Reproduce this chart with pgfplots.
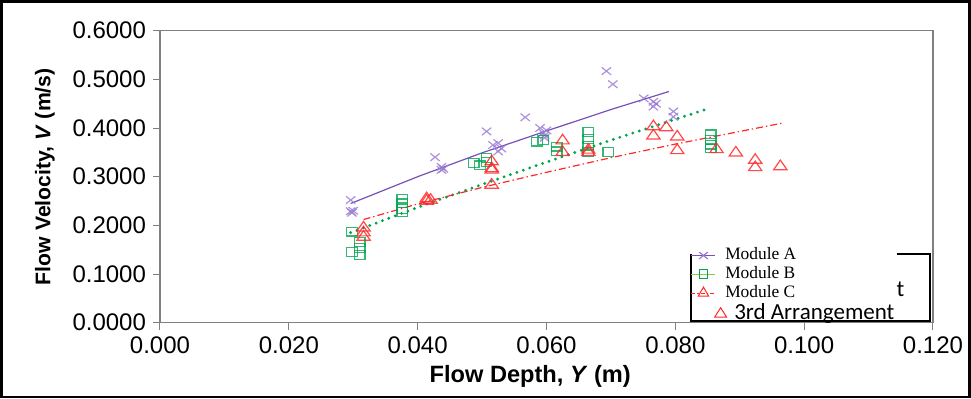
\documentclass[border=0pt]{standalone}
\usepackage{pgfplots}
\pgfplotsset{compat=1.18}
\usepackage{fontspec}
\setmainfont{Liberation Sans}
\newfontfamily\timesf{Liberation Serif}
\newfontfamily\calib{Carlito}
\definecolor{pA}{RGB}{150,120,210}
\definecolor{pAl}{RGB}{120,80,185}
\definecolor{gB}{RGB}{0,165,80}
\definecolor{gBl}{RGB}{130,210,60}
\definecolor{rC}{RGB}{255,40,40}
\begin{document}
\begin{tikzpicture}
\useasboundingbox (-80pt,-38.15pt) rectangle (405.5pt,161.35pt);
\draw[line width=1.2pt] (-79.2pt,-37.3pt) rectangle (404.7pt,160.5pt);
\begin{axis}[
  at={(0pt,0pt)}, anchor=south west,
  scale only axis, width=386.5pt, height=146pt,
  xmin=0, xmax=0.12, ymin=0, ymax=0.6,
  xtick={0,0.02,0.04,0.06,0.08,0.1,0.12},
  ytick={0,0.1,0.2,0.3,0.4,0.5,0.6},
  scaled x ticks=false, scaled y ticks=false,
  tick pos=left, tick align=outside, major tick length=3.5pt,
  tick style={gray, line width=0.5pt},
  axis line style={gray, line width=0.6pt},
  /pgf/number format/assume math mode=true,
  xticklabel={\pgfmathprintnumber[fixed,zerofill,precision=3]{\tick}},
  yticklabel={\pgfmathprintnumber[fixed,zerofill,precision=4]{\tick}},
  xticklabel style={font=\fontsize{12}{14}\selectfont},
  yticklabel style={font=\fontsize{12}{14}\selectfont},
  xlabel={\bfseries Flow Depth, \textit{Y} (m)},
  ylabel={\bfseries Flow Velocity, \textit{V} (m/s)},
  xlabel style={font=\fontsize{11.8}{14}\selectfont, at={(axis description cs:0.479,-0.185)}, anchor=center},
  ylabel style={font=\fontsize{10.6}{13}\selectfont, at={(axis description cs:-0.149,0.5)}, anchor=center},
  legend style={draw=none, fill=none, at={(axis description cs:0.6865,0.2585)}, anchor=north west,
    inner sep=0pt, outer sep=0pt, row sep=1.1pt, column sep=4.5pt,
    font=\timesf\fontsize{8.7}{10}\selectfont,
    nodes={inner sep=0pt, text height=6.3pt, text depth=2pt}, cells={anchor=west}},
  legend image code/.code={\draw[#1, mark repeat=2, mark phase=2] plot coordinates {(0pt,0pt) (6pt,0pt) (12pt,0pt)};},
]
\addlegendimage{pAl, line width=0.6pt, mark=x, mark size=3pt, mark options={pA, solid, yscale=0.8}}
\addlegendentry{Module A}
\addlegendimage{gBl, line width=0.8pt, mark=square, mark size=2.2pt, mark options={gB, solid, line width=0.5pt}}
\addlegendentry{Module B}
\addlegendimage{rC, line width=0.5pt, dash pattern=on 2pt off 1pt on 0.6pt off 1pt, mark=triangle, mark size=3pt, mark options={solid}}
\addlegendentry{Module C}
\addlegendimage{legend image code/.code={\begin{pgfinterruptboundingbox}\path[rC, line width=0.5pt] plot[mark=triangle, mark size=3.1pt, mark options={xscale=1.1, draw=rC}] coordinates {(14.6pt,-1pt)};\end{pgfinterruptboundingbox}}}
\addlegendentry{\raisebox{-1.5pt}{\calib\fontsize{11.5}{12}\selectfont\hspace{4.5pt}3rd Arrangement}}

% Module A trend line
\addplot[pAl, line width=0.6pt, forget plot] coordinates {
(0.0296,0.245) (0.030,0.247) (0.040,0.300) (0.050,0.349) (0.060,0.394) (0.070,0.438) (0.079,0.475)};
% Module B trend line
\addplot[gB, line width=1.6pt, line cap=round, dash pattern=on 0pt off 3.4pt, forget plot] coordinates {
(0.0296,0.185) (0.040,0.237) (0.050,0.284) (0.060,0.330) (0.070,0.375) (0.0849,0.439)};
% Module C trend line
\addplot[rC, line width=0.6pt, dash pattern=on 3.5pt off 1.5pt on 0.7pt off 1.5pt, forget plot] coordinates {
(0.0316,0.212) (0.040,0.244) (0.050,0.278) (0.060,0.309) (0.070,0.339) (0.080,0.367) (0.0966,0.410)};

% Module A data
\addplot[only marks, mark=x, mark size=3.3pt, mark options={pA, line width=0.6pt, yscale=0.8, opacity=0.8}, forget plot] coordinates {
(0.0296,0.252) (0.0296,0.229) (0.0298,0.226) (0.0300,0.230)
(0.0427,0.340) (0.0437,0.320) (0.0437,0.314) (0.0440,0.316)
(0.0507,0.393) (0.0517,0.365) (0.0525,0.369) (0.0525,0.352) (0.0530,0.358)
(0.0567,0.422) (0.0590,0.400) (0.0595,0.390) (0.0597,0.385) (0.0600,0.395) (0.0597,0.380)
(0.0693,0.517) (0.0703,0.490)
(0.0751,0.461) (0.0766,0.454) (0.0766,0.444) (0.0770,0.450) (0.0797,0.434) (0.0797,0.423)};
% Module B data
\addplot[only marks, mark=square, mark size=2.2pt, mark options={gB, line width=0.6pt, xscale=1.2, opacity=0.8}, forget plot] coordinates {
(0.0298,0.187) (0.0298,0.145) (0.0310,0.139) (0.0310,0.153) (0.0310,0.166)
(0.0376,0.255) (0.0376,0.245) (0.0376,0.234) (0.0376,0.228)
(0.0487,0.328) (0.0497,0.323) (0.0507,0.338) (0.0507,0.330)
(0.0585,0.372) (0.0595,0.375) (0.0616,0.362) (0.0616,0.352)
(0.0665,0.392) (0.0665,0.377) (0.0665,0.364) (0.0665,0.351) (0.0696,0.351)
(0.0855,0.387) (0.0855,0.376) (0.0855,0.366) (0.0855,0.358)};
% Module C data
\addplot[only marks, mark=triangle, mark size=3.2pt, mark options={rC, line width=0.6pt, xscale=1.2, opacity=0.85}, forget plot] coordinates {
(0.0316,0.195) (0.0316,0.185) (0.0316,0.176)
(0.0414,0.255) (0.0414,0.250) (0.0420,0.252)
(0.0515,0.331) (0.0515,0.317) (0.0515,0.314) (0.0515,0.283)
(0.0625,0.374) (0.0625,0.350)
(0.0665,0.355) (0.0665,0.350)
(0.0766,0.403) (0.0766,0.384) (0.0786,0.401)
(0.0803,0.382) (0.0803,0.354)
(0.0864,0.356) (0.0894,0.349) (0.0924,0.334) (0.0924,0.319) (0.0963,0.321)};

% legend box (top edge partly hidden, as in the reference)
\draw[black, line width=0.6pt] (axis description cs:0.953,0.2353) -- (axis description cs:0.996,0.2353) -- (axis description cs:0.996,0.0058) -- (axis description cs:0.687,0.0058) -- (axis description cs:0.687,0.2353);
\node[font=\calib\fontsize{11.5}{12}\selectfont, anchor=center] at (axis description cs:0.958,0.114) {t};
\end{axis}
\end{tikzpicture}
\end{document}
